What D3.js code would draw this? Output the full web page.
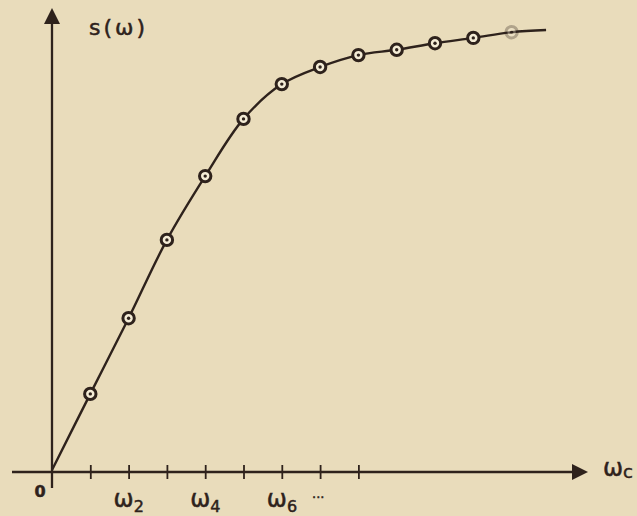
<!DOCTYPE html>
<html>
<head>
<meta charset="utf-8">
<script src="https://cdn.jsdelivr.net/npm/d3@7"></script>
<style>
  html, body { margin: 0; padding: 0; background: #e9dcbb; }
  svg { display: block; }
  text { font-family: "DejaVu Sans", sans-serif; fill: #2e221c; stroke: #2e221c; stroke-width: 0.5; }
</style>
</head>
<body>
<svg id="chart" width="637" height="516"></svg>
<script>
// Sample frequencies (index k of ω_k) and the response s(ω) at each
const sampleIndex = [1, 2, 3, 4, 5, 6, 7, 8, 9, 10, 11, 12];
const sValues = [0.173, 0.345, 0.523, 0.668, 0.798, 0.877, 0.916, 0.943, 0.955, 0.970, 0.982, 0.995];
// curve continues a little past the last sample
const tailIndex = [12.9];
const tailValues = [1.0];
// ticks on the frequency axis, some of them labelled
const tickIndex = [1, 2, 3, 4, 5, 6, 7, 8];
const tickLabels = [
  { k: 2, sub: "2" },
  { k: 4, sub: "4" },
  { k: 6, sub: "6" }
];

const ink = "#2e221c";
const svg = d3.select("#chart");

const x = d3.scaleLinear().domain([0, 13]).range([52, 52 + 38.3 * 13]);
const y = d3.scaleLinear().domain([0, 1]).range([470, 30]);
const axisY = 472;

// arrowheads
const defs = svg.append("defs");
defs.append("marker")
  .attr("id", "arrow")
  .attr("viewBox", "0 0 16 16")
  .attr("refX", 1).attr("refY", 8)
  .attr("markerWidth", 16).attr("markerHeight", 16)
  .attr("markerUnits", "userSpaceOnUse")
  .attr("orient", "auto")
  .append("path")
  .attr("d", "M0,0 L16,8 L0,16 Z")
  .attr("fill", ink);

// horizontal axis with ticks
const xAxis = d3.axisBottom(x)
  .tickValues(tickIndex)
  .tickFormat("")
  .tickSizeOuter(0);
const gx = svg.append("g")
  .attr("transform", `translate(0,${axisY})`)
  .call(xAxis);
gx.select(".domain").remove();
gx.selectAll(".tick line")
  .attr("y1", -7).attr("y2", 7)
  .attr("stroke", ink).attr("stroke-width", 1.8);

svg.append("line")
  .attr("x1", 12).attr("y1", axisY)
  .attr("x2", 573).attr("y2", axisY)
  .attr("stroke", ink).attr("stroke-width", 2.3)
  .attr("marker-end", "url(#arrow)");

// vertical axis
svg.append("line")
  .attr("x1", x(0)).attr("y1", 488)
  .attr("x2", x(0)).attr("y2", 23)
  .attr("stroke", ink).attr("stroke-width", 2.3)
  .attr("marker-end", "url(#arrow)");

// response curve through the origin and all samples
const curvePts = [[0, 0]]
  .concat(sampleIndex.map((k, i) => [k, sValues[i]]))
  .concat(tailIndex.map((k, i) => [k, tailValues[i]]));
const line = d3.line()
  .x(d => x(d[0]))
  .y(d => y(d[1]))
  .curve(d3.curveCatmullRom.alpha(0.5));
svg.append("path")
  .datum(curvePts)
  .attr("d", line)
  .attr("fill", "none")
  .attr("stroke", ink)
  .attr("stroke-width", 2.4);

// sample markers: ring with a centre dot
const pts = svg.append("g").selectAll("g")
  .data(sampleIndex.map((k, i) => ({ k, v: sValues[i], last: i === sampleIndex.length - 1 })))
  .join("g")
  .attr("transform", d => `translate(${x(d.k)},${y(d.v)})`)
  .attr("opacity", d => d.last ? 0.3 : 1);
pts.append("circle")
  .attr("r", 5.7)
  .attr("fill", "#f4ecd6")
  .attr("stroke", ink)
  .attr("stroke-width", 3);
pts.append("circle")
  .attr("r", 1.7)
  .attr("fill", ink);

// axis labels
svg.append("text")
  .attr("x", 89).attr("y", 35)
  .attr("font-size", 22)
  .attr("letter-spacing", 3)
  .text("s(ω)");

svg.append("text")
  .attr("x", 40).attr("y", 497)
  .attr("text-anchor", "middle")
  .attr("font-size", 16)
  .attr("font-weight", "bold")
  .text("0");

const wl = svg.append("g").selectAll("text")
  .data(tickLabels)
  .join("text")
  .attr("x", d => x(d.k) - 15)
  .attr("y", 507)
  .attr("font-size", 24);
wl.append("tspan").text("ω");
wl.append("tspan")
  .attr("font-size", 16)
  .attr("dy", 5)
  .text(d => d.sub);

svg.append("text")
  .attr("x", 312).attr("y", 502)
  .attr("font-size", 13)
  .text("···");

const wc = svg.append("text")
  .attr("x", 603).attr("y", 476)
  .attr("font-size", 24);
wc.append("tspan").text("ω");
wc.append("tspan").attr("font-size", 18).attr("dy", 2).text("c");
</script>
</body>
</html>
